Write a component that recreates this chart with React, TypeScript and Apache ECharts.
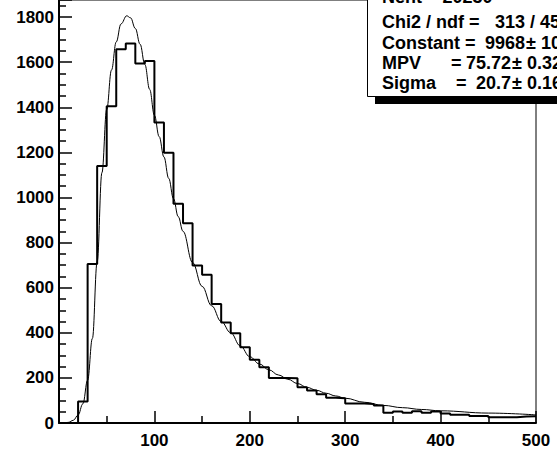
import React, { useEffect, useRef } from "react";
import * as echarts from "echarts";

// Histogram: lower bin edges (bin width 10) and counts
const binLow = [20, 30, 40, 50, 60, 70, 80, 90, 100, 110, 120, 130, 140, 150, 160, 170, 180, 190, 200, 210, 220, 230, 240, 250, 260, 270, 280, 290, 300, 310, 320, 330, 340, 350, 360, 370, 380, 390, 400, 410, 420, 430, 440, 450, 460, 470, 480, 490];
const binWidth = 10;
const counts = [95, 705, 1140, 1405, 1658, 1683, 1594, 1606, 1333, 1199, 972, 886, 699, 658, 528, 446, 398, 336, 280, 247, 200, 200, 198, 158, 144, 128, 112, 110, 86, 86, 84, 78, 45, 51, 45, 52, 45, 51, 42, 37, 37, 31, 31, 26, 25, 26, 29, 30];

// Landau fit curve
const fitX = [0, 5, 10, 15, 20, 25, 30, 35, 40, 45, 50, 55, 60, 65, 71, 75, 80, 85, 90, 95, 100, 105, 110, 115, 120, 125, 130, 140, 150, 160, 170, 180, 190, 200, 210, 220, 230, 240, 250, 260, 270, 280, 290, 300, 320, 340, 360, 380, 400, 450, 500];
const fitY = [0, 0.5, 3, 12, 35, 85, 190, 375, 715, 1110, 1390, 1565, 1690, 1770, 1806, 1797, 1750, 1680, 1590, 1480, 1365, 1270, 1180, 1085, 995, 915, 850, 712, 606, 520, 450, 400, 342, 294, 262, 236, 213, 194, 175, 158, 145, 132, 120, 110, 92, 78, 68, 60, 54, 44, 36];

const xTicks = [100, 200, 300, 400, 500];
const yTicks = [0, 200, 400, 600, 800, 1000, 1200, 1400, 1600, 1800];

// Stats box texts
const statNames = ["Nent = 20230", "Chi2 / ndf =", "Constant", "MPV", "Sigma"];
const statValues = ["", "313 / 45", "9968", "75.72", "20.7"];
const statErrors = ["", "", "10", "0.32", "0.16"];

const FONT = "'Liberation Sans', Arial, Helvetica, sans-serif";

export default function App() {
  const ref = useRef<HTMLDivElement>(null);
  useEffect(() => {
    if (!ref.current) return;
    const chart = echarts.init(ref.current, null, { renderer: "svg" });

    const histData: number[][] = [[binLow[0], 0]];
    binLow.forEach((x, i) => histData.push([x, counts[i]]));
    const last = binLow.length - 1;
    histData.push([binLow[last] + binWidth, counts[last]]);

    const fitData = fitX.map((x, i) => [x, fitY[i]]);

    const txt = (x: number, y: number, text: string, align = "left") => ({
      type: "text",
      x,
      y,
      z: 101,
      style: {
        text,
        fill: "#000",
        font: `bold 18px ${FONT}`,
        align,
        verticalAlign: "middle",
      },
    });

    const lineY = [-3, 22, 42.5, 63, 83];
    const eqX = [0, 0, 465, 451, 456];
    const graphics: any[] = [
      { type: "rect", z: 99, shape: { x: 375, y: 97, width: 200, height: 7 }, style: { fill: "#000" } },
      { type: "rect", z: 100, shape: { x: 367.5, y: -30, width: 220, height: 126.5 }, style: { fill: "#fff", stroke: "#000", lineWidth: 1 } },
    ];
    graphics.push(txt(382, lineY[0], statNames[0]));
    graphics.push(txt(382, lineY[1], statNames[1]));
    graphics.push(txt(495, lineY[1], statValues[1]));
    for (let i = 2; i < 5; i++) {
      const valEnd = i === 2 ? 525 : 511;
      graphics.push(txt(382, lineY[i], statNames[i]));
      graphics.push(txt(eqX[i], lineY[i], "="));
      graphics.push(txt(valEnd, lineY[i], statValues[i], "right"));
      graphics.push(txt(valEnd + 1, lineY[i], "±"));
      graphics.push(txt(valEnd + 16, lineY[i], statErrors[i]));
    }

    chart.setOption({
      animation: false,
      backgroundColor: "#fff",
      grid: {
        left: 59,
        right: 21,
        top: 0,
        bottom: 30,
        show: true,
        borderColor: "#000",
        borderWidth: 1,
        containLabel: false,
      },
      xAxis: {
        type: "value",
        min: 0,
        max: 500,
        interval: 100,
        axisLine: { show: true, onZero: false, lineStyle: { color: "#000", width: 2 } },
        axisTick: { show: true, inside: true, length: 12, lineStyle: { color: "#000", width: 1.5 } },
        minorTick: { show: true, splitNumber: 2, length: 7, lineStyle: { color: "#000", width: 1.5 } },
        splitLine: { show: false },
        axisLabel: {
          margin: 9,
          color: "#000",
          fontWeight: "bold",
          fontSize: 17,
          fontFamily: FONT,
          formatter: (v: number) => (xTicks.includes(v) ? String(v) : ""),
        },
      },
      yAxis: {
        type: "value",
        min: 0,
        max: 1876,
        interval: 200,
        axisLine: { show: true, onZero: false, lineStyle: { color: "#000", width: 2 } },
        axisTick: { show: true, inside: true, length: 13, lineStyle: { color: "#000", width: 1.5 } },
        minorTick: { show: true, splitNumber: 4, length: 7, lineStyle: { color: "#000", width: 1.5 } },
        splitLine: { show: false },
        axisLabel: {
          margin: 5,
          color: "#000",
          fontWeight: "bold",
          fontSize: 17,
          fontFamily: FONT,
          formatter: (v: number) => (yTicks.includes(v) ? String(v) : ""),
        },
      },
      series: [
        {
          type: "line",
          step: "end",
          data: histData,
          symbol: "none",
          lineStyle: { color: "#000", width: 2 },
          z: 3,
        },
        {
          type: "line",
          data: fitData,
          smooth: 0.4,
          smoothMonotone: "x",
          symbol: "none",
          lineStyle: { color: "#000", width: 1 },
          z: 4,
        },
      ],
      graphic: graphics,
    });
    return () => chart.dispose();
  }, []);
  return <div ref={ref} style={{ position: "fixed", left: 0, top: 0, width: 557, height: 453 }} />;
}
